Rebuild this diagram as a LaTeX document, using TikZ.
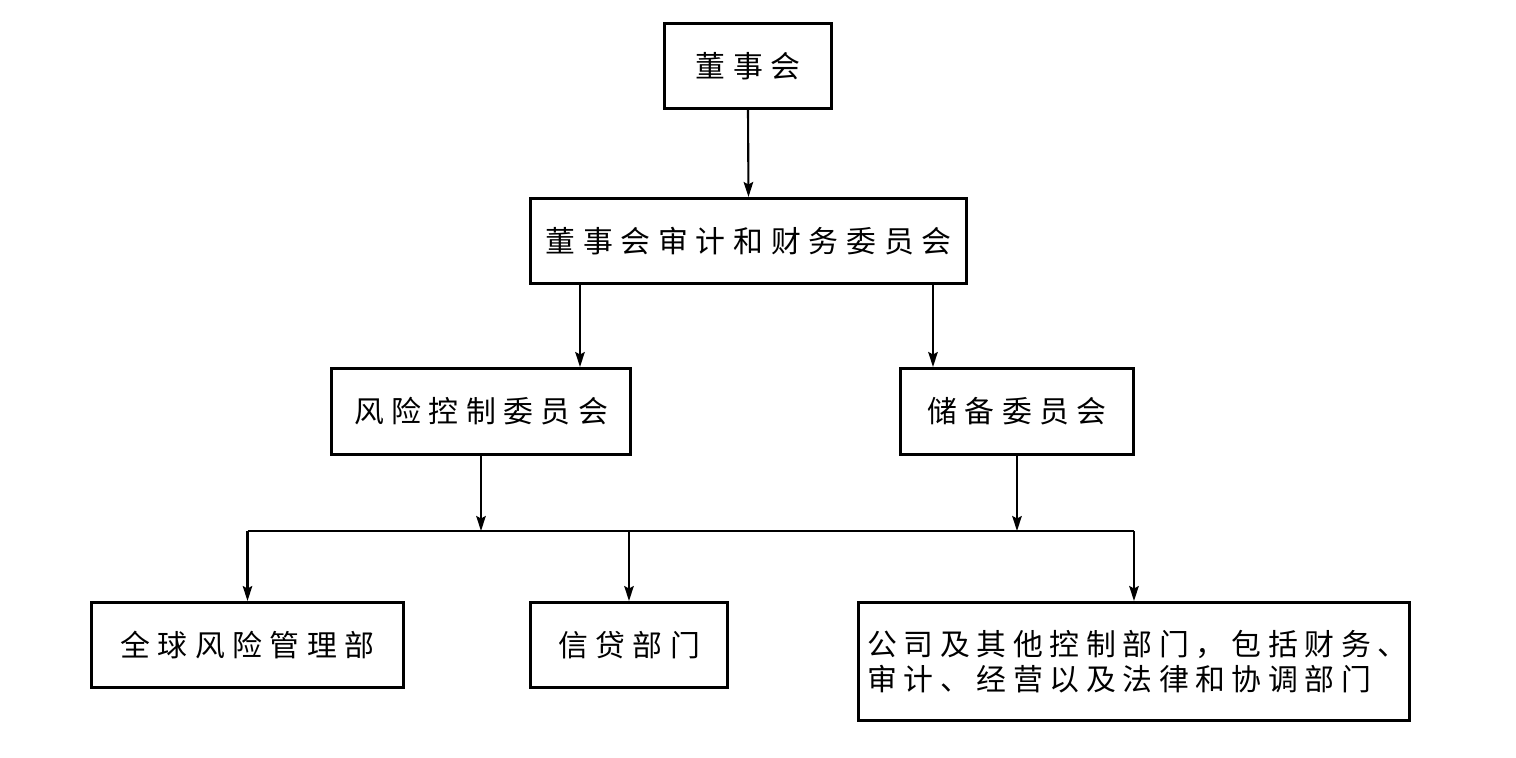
\documentclass[tikz,border=0pt]{standalone}
\usepackage{fontspec}
\newfontfamily\cjk[LetterSpace=25]{Noto Sans CJK SC}
\newfontfamily\cjkwide[LetterSpace=26]{Noto Sans CJK SC}
\newfontfamily\cjknarrow[LetterSpace=22]{Noto Sans CJK SC}
\usetikzlibrary{arrows.meta}
\begin{document}
\begin{tikzpicture}[x=0.02cm, y=-0.02cm,
	box/.style={draw, line width=1.7pt, inner sep=0pt, minimum height=85*0.02cm,
		font=\cjk\fontsize{17pt}{20pt}\selectfont},
	link/.style={line width=1.2pt},
	arr/.style={link, -{Stealth[length=3mm, width=1.9mm, inset=0.5mm]}}]
	\useasboundingbox (0,0) rectangle (1516,758);
	% boxes
	\node[box, minimum width=167*0.02cm] (board) at (748,66) {董事会};
	\node[box, minimum width=436*0.02cm, font=\cjkwide\fontsize{17pt}{20pt}\selectfont] (audit) at (748.5,241) {董事会审计和财务委员会};
	\node[box, minimum width=299*0.02cm, minimum height=86*0.02cm] (risk) at (481,411.5) {风险控制委员会};
	\node[box, minimum width=233*0.02cm, minimum height=86*0.02cm] (reserve) at (1017,411.5) {储备委员会};
	\node[box, minimum width=312*0.02cm] (global) at (247.5,645) {全球风险管理部};
	\node[box, minimum width=197*0.02cm] (credit) at (629,645) {信贷部门};
	\node[box, minimum width=551*0.02cm, minimum height=118*0.02cm, align=left,
		font=\cjknarrow\fontsize{17pt}{20pt}\selectfont] (corp) at (1134,661.5)
		{\kern4pt公司及其他控制部门，包括财务、\\\kern4pt审计、经营以及法律和协调部门};
	% helper points
	\coordinate (ra) at (580,0);
	\coordinate (rb) at (933,0);
	\coordinate (bus) at (0,531);
	% connectors
	\draw[arr] (board.south) -- (audit.north);
	\draw[arr] (ra |- audit.south) -- (ra |- risk.north);
	\draw[arr] (rb |- audit.south) -- (rb |- reserve.north);
	\draw[arr] (risk.south) -- (risk.south |- bus);
	\draw[arr] (reserve.south) -- (reserve.south |- bus);
	\draw[link] (bus -| global.north) -- (bus -| corp.north);
	\draw[arr] (bus -| global.north) -- (global.north);
	\draw[arr] (bus -| credit.north) -- (credit.north);
	\draw[arr] (bus -| corp.north) -- (corp.north);
\end{tikzpicture}
\end{document}
